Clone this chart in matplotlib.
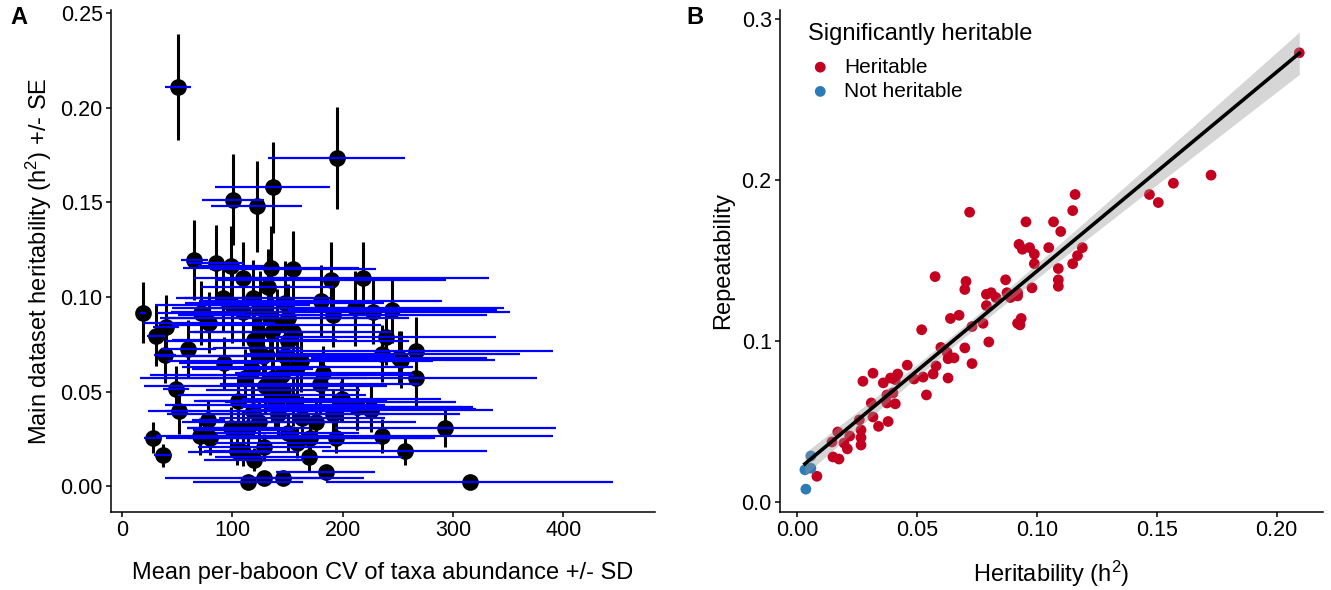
import numpy as np
import matplotlib
matplotlib.use("Agg")
import matplotlib.pyplot as plt

plt.rcParams['font.family'] = ['Liberation Sans', 'DejaVu Sans']
plt.rcParams['mathtext.fontset'] = 'custom'
plt.rcParams['mathtext.rm'] = 'Liberation Sans'
plt.rcParams['mathtext.it'] = 'Liberation Sans:italic'

# ---- panel A: per-taxon CV (mean +/- SD) vs heritability (+/- SE) ----
cv_mean = [50.7, 194.6, 136.7, 100.5, 122, 65.6, 85, 98.6, 110, 135, 155, 132, 189, 218,
           91.4, 118.6, 147.5, 180, 211, 227, 245, 19, 72, 109.5, 134, 150, 191, 79, 40, 31,
           136, 155, 120, 239, 60, 39, 122, 147.5, 236, 251, 92, 159, 111, 137, 182, 179,
           49, 146, 136, 199, 51.6, 118.6, 138.5, 141, 191, 212.7, 226, 78, 98.6, 109.5,
           114, 176, 70.6, 79.6, 28, 37, 104, 109.5, 119.5, 129, 159, 170, 169, 193.7, 236,
           114, 129, 146, 184.6, 256, 266, 266, 253, 293, 315, 198, 213, 226,
           125, 140, 150, 128, 162, 118, 145, 130, 155, 105, 163, 124, 150, 100]
cv_sd = [12, 62, 52, 28, 41, 12, 25, 30, 45, 80, 75, 60, 105, 115,
         35, 70, 90, 110, 135, 125, 95, 3, 40, 65, 100, 110, 140, 60, 12, 8,
         75, 90, 75, 100, 25, 10, 40, 100, 125, 80, 40, 105, 95, 85, 80, 90,
         12, 70, 85, 90, 12, 95, 100, 100, 115, 105, 110, 15, 40, 45,
         55, 90, 40, 40, 8, 8, 30, 50, 45, 60, 75, 110, 85, 90, 155,
         50, 90, 40, 45, 75, 125, 110, 85, 100, 130, 105, 95, 95,
         80, 95, 110, 95, 120, 55, 120, 110, 85, 40, 75, 70, 65, 70]
h2_a = [0.211, 0.1735, 0.158, 0.1515, 0.148, 0.1197, 0.118, 0.1165, 0.110, 0.1155, 0.115,
        0.1055, 0.109, 0.110, 0.0997, 0.0997, 0.097, 0.098, 0.094, 0.092, 0.093, 0.0917,
        0.0917, 0.092, 0.089, 0.089, 0.0907, 0.0865, 0.084, 0.0796, 0.0817, 0.0817, 0.0775,
        0.079, 0.0728, 0.0696, 0.0733, 0.069, 0.070, 0.068, 0.065, 0.063, 0.0575, 0.0575,
        0.060, 0.054, 0.0517, 0.051, 0.0485, 0.046, 0.0396, 0.040, 0.043, 0.038, 0.038,
        0.0417, 0.0406, 0.0353, 0.031, 0.030, 0.031, 0.0338, 0.0264, 0.0258, 0.0258, 0.0164,
        0.0185, 0.018, 0.0142, 0.0206, 0.0232, 0.0258, 0.0158, 0.0258, 0.0264, 0.0026,
        0.0047, 0.0047, 0.0074, 0.0185, 0.0717, 0.0575, 0.067, 0.031, 0.0026, 0.0448, 0.042,
        0.041, 0.094, 0.085, 0.077, 0.069, 0.066, 0.062, 0.059, 0.053, 0.045, 0.045, 0.036,
        0.034, 0.028, 0.096]
h2_se = [0.028, 0.027, 0.024, 0.024, 0.024, 0.021, 0.020, 0.021, 0.019, 0.022, 0.020,
         0.020, 0.020, 0.019, 0.018, 0.020, 0.022, 0.019, 0.020, 0.017, 0.017, 0.016,
         0.017, 0.018, 0.020, 0.018, 0.017, 0.016, 0.017, 0.016, 0.018, 0.017, 0.016,
         0.015, 0.015, 0.015, 0.016, 0.017, 0.015, 0.014, 0.014, 0.016, 0.015, 0.014,
         0.014, 0.015, 0.012, 0.014, 0.014, 0.012, 0.012, 0.013, 0.012, 0.012, 0.013,
         0.012, 0.011, 0.010, 0.011, 0.010, 0.012, 0.011, 0.010, 0.009, 0.008, 0.006,
         0.007, 0.007, 0.006, 0.007, 0.008, 0.009, 0.008, 0.008, 0.009, 0.003,
         0.003, 0.003, 0.004, 0.007, 0.018, 0.016, 0.015, 0.010, 0.003, 0.011, 0.012,
         0.012, 0.020, 0.019, 0.018, 0.017, 0.016, 0.017, 0.015, 0.015, 0.013, 0.013, 0.012,
         0.012, 0.010, 0.020]

# ---- panel B: heritability vs repeatability ----
h2_her = [0.116, 0.115, 0.072, 0.0955, 0.107, 0.110, 0.0926, 0.097, 0.094, 0.099, 0.105,
          0.119, 0.117, 0.099, 0.115, 0.109, 0.109, 0.109, 0.098, 0.0576, 0.0705, 0.070,
          0.087, 0.079, 0.081, 0.0876, 0.092, 0.083, 0.089, 0.092, 0.079, 0.064, 0.0676,
          0.052, 0.073, 0.0776, 0.092, 0.0935, 0.093, 0.080, 0.060, 0.070, 0.0626, 0.063,
          0.0655, 0.073, 0.058, 0.0568, 0.063, 0.046, 0.0317, 0.0275, 0.036, 0.039, 0.042,
          0.041, 0.0488, 0.0526, 0.054, 0.0375, 0.040, 0.031, 0.0375, 0.041, 0.0317, 0.038,
          0.034, 0.026, 0.017, 0.022, 0.0267, 0.0267, 0.0267, 0.0196, 0.021, 0.0146, 0.015,
          0.0175, 0.0083, 0.2095, 0.1727, 0.157, 0.147, 0.1507]
rep_her = [0.191, 0.181, 0.180, 0.174, 0.174, 0.168, 0.160, 0.158, 0.157, 0.154, 0.158,
           0.158, 0.153, 0.148, 0.148, 0.145, 0.138, 0.134, 0.133, 0.140, 0.137, 0.132,
           0.138, 0.129, 0.130, 0.130, 0.130, 0.127, 0.127, 0.128, 0.122, 0.114, 0.116,
           0.107, 0.109, 0.111, 0.111, 0.114, 0.110, 0.0994, 0.096, 0.0957, 0.093, 0.089,
           0.0895, 0.086, 0.0845, 0.0795, 0.077, 0.085, 0.080, 0.075, 0.074, 0.077, 0.0795,
           0.076, 0.0764, 0.0776, 0.0665, 0.0665, 0.0677, 0.0615, 0.0615, 0.061, 0.0528, 0.050,
           0.047, 0.051, 0.0435, 0.041, 0.0447, 0.0354, 0.040, 0.0366, 0.033, 0.0373, 0.028,
           0.0267, 0.016, 0.279, 0.203, 0.198, 0.191, 0.186]
h2_not = [0.0058, 0.0033, 0.0058, 0.0037]
rep_not = [0.0286, 0.020, 0.021, 0.008]

red = '#c3001f'
blue = '#2c7bb6'

fig = plt.figure(figsize=(13.31, 5.9), dpi=100)
axA = fig.add_axes([0.0834, 0.1322, 0.4087, 0.8509])
axB = fig.add_axes([0.586, 0.1322, 0.408, 0.8509])

# panel A
axA.errorbar(cv_mean, h2_a, yerr=h2_se, fmt='none', ecolor='black', elinewidth=2.2, zorder=1)
axA.plot(cv_mean, h2_a, 'o', color='black', markersize=11, zorder=2)
axA.errorbar(cv_mean, h2_a, xerr=cv_sd, fmt='none', ecolor='blue', elinewidth=1.6, zorder=3)
axA.set_xlim(-10, 483)
axA.set_ylim(-0.0135, 0.2516)
axA.set_xticks([0, 100, 200, 300, 400])
axA.set_yticks([0, 0.05, 0.10, 0.15, 0.20, 0.25])
axA.set_yticklabels(['0.00', '0.05', '0.10', '0.15', '0.20', '0.25'])
axA.set_xlabel('Mean per-baboon CV of taxa abundance +/- SD', fontsize=17, labelpad=15)
axA.set_ylabel('Main dataset heritability (h$^{2}$) +/- SE', fontsize=17, labelpad=4.5)

# panel B
x_all = np.array(h2_her + h2_not)
y_all = np.array(rep_her + rep_not)
slope, icept = np.polyfit(x_all, y_all, 1)
n = len(x_all)
resid = y_all - (slope * x_all + icept)
s = np.sqrt(np.sum(resid ** 2) / (n - 2))
xs = np.linspace(x_all.min(), x_all.max(), 100)
se_fit = s * np.sqrt(1.0 / n + (xs - x_all.mean()) ** 2 / np.sum((x_all - x_all.mean()) ** 2))
yfit = slope * xs + icept

axB.scatter(h2_her, rep_her, s=60, color=red, edgecolors='none', label='Heritable', zorder=2)
axB.scatter(h2_not, rep_not, s=60, color=blue, edgecolors='none', label='Not heritable', zorder=2)
axB.fill_between(xs, yfit - 1.98 * se_fit, yfit + 1.98 * se_fit, color='#999999', alpha=0.4,
                 linewidth=0, zorder=3)
axB.plot(xs, yfit, color='black', linewidth=2.6, zorder=4)
axB.set_xlim(-0.0071, 0.2194)
axB.set_ylim(-0.0062, 0.3056)
axB.set_xticks([0, 0.05, 0.10, 0.15, 0.20])
axB.set_xticklabels(['0.00', '0.05', '0.10', '0.15', '0.20'])
axB.set_yticks([0, 0.1, 0.2, 0.3])
axB.set_yticklabels(['0.0', '0.1', '0.2', '0.3'])
axB.set_xlabel('Heritability (h$^{2}$)', fontsize=17, labelpad=12.5)
axB.set_ylabel('Repeatability', fontsize=17, labelpad=5.5)
axB.text(0.0516, 0.952, 'Significantly heritable', transform=axB.transAxes,
         fontsize=17, ha='left', va='center')
axB.legend(loc='upper left', bbox_to_anchor=(0.055, 0.905), frameon=False, fontsize=15,
           borderaxespad=0, borderpad=0, handlelength=1.0, handletextpad=0.63,
           labelspacing=0.25)

for ax in (axA, axB):
    for side in ('top', 'right'):
        ax.spines[side].set_visible(False)
    ax.spines['left'].set_linewidth(1.1)
    ax.spines['bottom'].set_linewidth(1.1)
    ax.tick_params(labelsize=15.5, length=3.5, width=1.1, pad=2.5, colors='black')

fig.text(0.0075, 0.97, 'A', fontsize=17, fontweight='bold', va='center')
fig.text(0.516, 0.97, 'B', fontsize=17, fontweight='bold', va='center')

fig.savefig('out.png', dpi=100)
